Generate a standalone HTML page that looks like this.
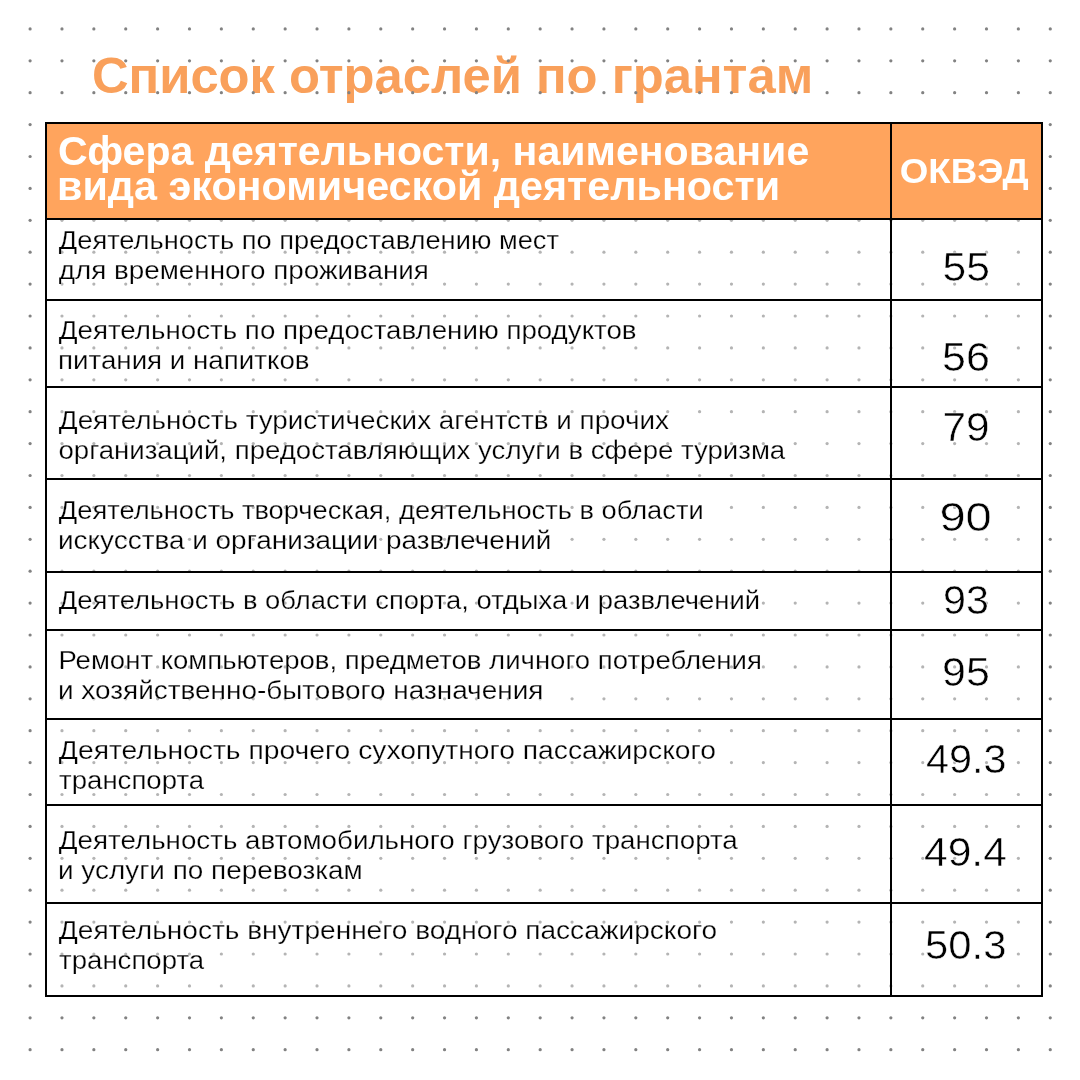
<!DOCTYPE html>
<html lang="ru"><head><meta charset="utf-8"><title>Список отраслей по грантам</title>
<style>
html,body{margin:0;padding:0;background:#fff;}
body{width:1080px;height:1080px;overflow:hidden;position:relative;}
svg{position:absolute;left:0;top:0;display:block;will-change:transform;}
text{font-family:"Liberation Sans","DejaVu Sans",sans-serif;}
.b{font-weight:700;}
</style></head><body>
<svg width="1080" height="1080" viewBox="0 0 1080 1080">
<text class="b" x="91.97" y="93" font-size="50" fill="#F9A05B" textLength="721.18" lengthAdjust="spacingAndGlyphs">Список отраслей по грантам</text>
<g fill="#828282"><circle cx="30.10" cy="28.90" r="1.6"/><circle cx="61.98" cy="28.90" r="1.6"/><circle cx="93.86" cy="28.90" r="1.6"/><circle cx="125.74" cy="28.90" r="1.6"/><circle cx="157.62" cy="28.90" r="1.6"/><circle cx="189.50" cy="28.90" r="1.6"/><circle cx="221.38" cy="28.90" r="1.6"/><circle cx="253.26" cy="28.90" r="1.6"/><circle cx="285.14" cy="28.90" r="1.6"/><circle cx="317.02" cy="28.90" r="1.6"/><circle cx="348.90" cy="28.90" r="1.6"/><circle cx="380.78" cy="28.90" r="1.6"/><circle cx="412.66" cy="28.90" r="1.6"/><circle cx="444.54" cy="28.90" r="1.6"/><circle cx="476.42" cy="28.90" r="1.6"/><circle cx="508.30" cy="28.90" r="1.6"/><circle cx="540.18" cy="28.90" r="1.6"/><circle cx="572.06" cy="28.90" r="1.6"/><circle cx="603.94" cy="28.90" r="1.6"/><circle cx="635.82" cy="28.90" r="1.6"/><circle cx="667.70" cy="28.90" r="1.6"/><circle cx="699.58" cy="28.90" r="1.6"/><circle cx="731.46" cy="28.90" r="1.6"/><circle cx="763.34" cy="28.90" r="1.6"/><circle cx="795.22" cy="28.90" r="1.6"/><circle cx="827.10" cy="28.90" r="1.6"/><circle cx="858.98" cy="28.90" r="1.6"/><circle cx="890.86" cy="28.90" r="1.6"/><circle cx="922.74" cy="28.90" r="1.6"/><circle cx="954.62" cy="28.90" r="1.6"/><circle cx="986.50" cy="28.90" r="1.6"/><circle cx="1018.38" cy="28.90" r="1.6"/><circle cx="1050.26" cy="28.90" r="1.6"/><circle cx="30.10" cy="60.80" r="1.6"/><circle cx="61.98" cy="60.80" r="1.6"/><circle cx="93.86" cy="60.80" r="1.6"/><circle cx="125.74" cy="60.80" r="1.6"/><circle cx="157.62" cy="60.80" r="1.6"/><circle cx="189.50" cy="60.80" r="1.6"/><circle cx="221.38" cy="60.80" r="1.6"/><circle cx="253.26" cy="60.80" r="1.6"/><circle cx="285.14" cy="60.80" r="1.6"/><circle cx="317.02" cy="60.80" r="1.6"/><circle cx="348.90" cy="60.80" r="1.6"/><circle cx="380.78" cy="60.80" r="1.6"/><circle cx="412.66" cy="60.80" r="1.6"/><circle cx="444.54" cy="60.80" r="1.6"/><circle cx="476.42" cy="60.80" r="1.6"/><circle cx="508.30" cy="60.80" r="1.6"/><circle cx="540.18" cy="60.80" r="1.6"/><circle cx="572.06" cy="60.80" r="1.6"/><circle cx="603.94" cy="60.80" r="1.6"/><circle cx="635.82" cy="60.80" r="1.6"/><circle cx="667.70" cy="60.80" r="1.6"/><circle cx="699.58" cy="60.80" r="1.6"/><circle cx="731.46" cy="60.80" r="1.6"/><circle cx="763.34" cy="60.80" r="1.6"/><circle cx="795.22" cy="60.80" r="1.6"/><circle cx="827.10" cy="60.80" r="1.6"/><circle cx="858.98" cy="60.80" r="1.6"/><circle cx="890.86" cy="60.80" r="1.6"/><circle cx="922.74" cy="60.80" r="1.6"/><circle cx="954.62" cy="60.80" r="1.6"/><circle cx="986.50" cy="60.80" r="1.6"/><circle cx="1018.38" cy="60.80" r="1.6"/><circle cx="1050.26" cy="60.80" r="1.6"/><circle cx="30.10" cy="92.70" r="1.6"/><circle cx="61.98" cy="92.70" r="1.6"/><circle cx="93.86" cy="92.70" r="1.6"/><circle cx="125.74" cy="92.70" r="1.6"/><circle cx="157.62" cy="92.70" r="1.6"/><circle cx="189.50" cy="92.70" r="1.6"/><circle cx="221.38" cy="92.70" r="1.6"/><circle cx="253.26" cy="92.70" r="1.6"/><circle cx="285.14" cy="92.70" r="1.6"/><circle cx="317.02" cy="92.70" r="1.6"/><circle cx="348.90" cy="92.70" r="1.6"/><circle cx="380.78" cy="92.70" r="1.6"/><circle cx="412.66" cy="92.70" r="1.6"/><circle cx="444.54" cy="92.70" r="1.6"/><circle cx="476.42" cy="92.70" r="1.6"/><circle cx="508.30" cy="92.70" r="1.6"/><circle cx="540.18" cy="92.70" r="1.6"/><circle cx="572.06" cy="92.70" r="1.6"/><circle cx="603.94" cy="92.70" r="1.6"/><circle cx="635.82" cy="92.70" r="1.6"/><circle cx="667.70" cy="92.70" r="1.6"/><circle cx="699.58" cy="92.70" r="1.6"/><circle cx="731.46" cy="92.70" r="1.6"/><circle cx="763.34" cy="92.70" r="1.6"/><circle cx="795.22" cy="92.70" r="1.6"/><circle cx="827.10" cy="92.70" r="1.6"/><circle cx="858.98" cy="92.70" r="1.6"/><circle cx="890.86" cy="92.70" r="1.6"/><circle cx="922.74" cy="92.70" r="1.6"/><circle cx="954.62" cy="92.70" r="1.6"/><circle cx="986.50" cy="92.70" r="1.6"/><circle cx="1018.38" cy="92.70" r="1.6"/><circle cx="1050.26" cy="92.70" r="1.6"/><circle cx="30.10" cy="124.60" r="1.6"/><circle cx="61.98" cy="124.60" r="1.6"/><circle cx="93.86" cy="124.60" r="1.6"/><circle cx="125.74" cy="124.60" r="1.6"/><circle cx="157.62" cy="124.60" r="1.6"/><circle cx="189.50" cy="124.60" r="1.6"/><circle cx="221.38" cy="124.60" r="1.6"/><circle cx="253.26" cy="124.60" r="1.6"/><circle cx="285.14" cy="124.60" r="1.6"/><circle cx="317.02" cy="124.60" r="1.6"/><circle cx="348.90" cy="124.60" r="1.6"/><circle cx="380.78" cy="124.60" r="1.6"/><circle cx="412.66" cy="124.60" r="1.6"/><circle cx="444.54" cy="124.60" r="1.6"/><circle cx="476.42" cy="124.60" r="1.6"/><circle cx="508.30" cy="124.60" r="1.6"/><circle cx="540.18" cy="124.60" r="1.6"/><circle cx="572.06" cy="124.60" r="1.6"/><circle cx="603.94" cy="124.60" r="1.6"/><circle cx="635.82" cy="124.60" r="1.6"/><circle cx="667.70" cy="124.60" r="1.6"/><circle cx="699.58" cy="124.60" r="1.6"/><circle cx="731.46" cy="124.60" r="1.6"/><circle cx="763.34" cy="124.60" r="1.6"/><circle cx="795.22" cy="124.60" r="1.6"/><circle cx="827.10" cy="124.60" r="1.6"/><circle cx="858.98" cy="124.60" r="1.6"/><circle cx="890.86" cy="124.60" r="1.6"/><circle cx="922.74" cy="124.60" r="1.6"/><circle cx="954.62" cy="124.60" r="1.6"/><circle cx="986.50" cy="124.60" r="1.6"/><circle cx="1018.38" cy="124.60" r="1.6"/><circle cx="1050.26" cy="124.60" r="1.6"/><circle cx="30.10" cy="156.50" r="1.6"/><circle cx="61.98" cy="156.50" r="1.6"/><circle cx="93.86" cy="156.50" r="1.6"/><circle cx="125.74" cy="156.50" r="1.6"/><circle cx="157.62" cy="156.50" r="1.6"/><circle cx="189.50" cy="156.50" r="1.6"/><circle cx="221.38" cy="156.50" r="1.6"/><circle cx="253.26" cy="156.50" r="1.6"/><circle cx="285.14" cy="156.50" r="1.6"/><circle cx="317.02" cy="156.50" r="1.6"/><circle cx="348.90" cy="156.50" r="1.6"/><circle cx="380.78" cy="156.50" r="1.6"/><circle cx="412.66" cy="156.50" r="1.6"/><circle cx="444.54" cy="156.50" r="1.6"/><circle cx="476.42" cy="156.50" r="1.6"/><circle cx="508.30" cy="156.50" r="1.6"/><circle cx="540.18" cy="156.50" r="1.6"/><circle cx="572.06" cy="156.50" r="1.6"/><circle cx="603.94" cy="156.50" r="1.6"/><circle cx="635.82" cy="156.50" r="1.6"/><circle cx="667.70" cy="156.50" r="1.6"/><circle cx="699.58" cy="156.50" r="1.6"/><circle cx="731.46" cy="156.50" r="1.6"/><circle cx="763.34" cy="156.50" r="1.6"/><circle cx="795.22" cy="156.50" r="1.6"/><circle cx="827.10" cy="156.50" r="1.6"/><circle cx="858.98" cy="156.50" r="1.6"/><circle cx="890.86" cy="156.50" r="1.6"/><circle cx="922.74" cy="156.50" r="1.6"/><circle cx="954.62" cy="156.50" r="1.6"/><circle cx="986.50" cy="156.50" r="1.6"/><circle cx="1018.38" cy="156.50" r="1.6"/><circle cx="1050.26" cy="156.50" r="1.6"/><circle cx="30.10" cy="188.40" r="1.6"/><circle cx="61.98" cy="188.40" r="1.6"/><circle cx="93.86" cy="188.40" r="1.6"/><circle cx="125.74" cy="188.40" r="1.6"/><circle cx="157.62" cy="188.40" r="1.6"/><circle cx="189.50" cy="188.40" r="1.6"/><circle cx="221.38" cy="188.40" r="1.6"/><circle cx="253.26" cy="188.40" r="1.6"/><circle cx="285.14" cy="188.40" r="1.6"/><circle cx="317.02" cy="188.40" r="1.6"/><circle cx="348.90" cy="188.40" r="1.6"/><circle cx="380.78" cy="188.40" r="1.6"/><circle cx="412.66" cy="188.40" r="1.6"/><circle cx="444.54" cy="188.40" r="1.6"/><circle cx="476.42" cy="188.40" r="1.6"/><circle cx="508.30" cy="188.40" r="1.6"/><circle cx="540.18" cy="188.40" r="1.6"/><circle cx="572.06" cy="188.40" r="1.6"/><circle cx="603.94" cy="188.40" r="1.6"/><circle cx="635.82" cy="188.40" r="1.6"/><circle cx="667.70" cy="188.40" r="1.6"/><circle cx="699.58" cy="188.40" r="1.6"/><circle cx="731.46" cy="188.40" r="1.6"/><circle cx="763.34" cy="188.40" r="1.6"/><circle cx="795.22" cy="188.40" r="1.6"/><circle cx="827.10" cy="188.40" r="1.6"/><circle cx="858.98" cy="188.40" r="1.6"/><circle cx="890.86" cy="188.40" r="1.6"/><circle cx="922.74" cy="188.40" r="1.6"/><circle cx="954.62" cy="188.40" r="1.6"/><circle cx="986.50" cy="188.40" r="1.6"/><circle cx="1018.38" cy="188.40" r="1.6"/><circle cx="1050.26" cy="188.40" r="1.6"/><circle cx="30.10" cy="220.30" r="1.6"/><circle cx="61.98" cy="220.30" r="1.6"/><circle cx="93.86" cy="220.30" r="1.6"/><circle cx="125.74" cy="220.30" r="1.6"/><circle cx="157.62" cy="220.30" r="1.6"/><circle cx="189.50" cy="220.30" r="1.6"/><circle cx="221.38" cy="220.30" r="1.6"/><circle cx="253.26" cy="220.30" r="1.6"/><circle cx="285.14" cy="220.30" r="1.6"/><circle cx="317.02" cy="220.30" r="1.6"/><circle cx="348.90" cy="220.30" r="1.6"/><circle cx="380.78" cy="220.30" r="1.6"/><circle cx="412.66" cy="220.30" r="1.6"/><circle cx="444.54" cy="220.30" r="1.6"/><circle cx="476.42" cy="220.30" r="1.6"/><circle cx="508.30" cy="220.30" r="1.6"/><circle cx="540.18" cy="220.30" r="1.6"/><circle cx="572.06" cy="220.30" r="1.6"/><circle cx="603.94" cy="220.30" r="1.6"/><circle cx="635.82" cy="220.30" r="1.6"/><circle cx="667.70" cy="220.30" r="1.6"/><circle cx="699.58" cy="220.30" r="1.6"/><circle cx="731.46" cy="220.30" r="1.6"/><circle cx="763.34" cy="220.30" r="1.6"/><circle cx="795.22" cy="220.30" r="1.6"/><circle cx="827.10" cy="220.30" r="1.6"/><circle cx="858.98" cy="220.30" r="1.6"/><circle cx="890.86" cy="220.30" r="1.6"/><circle cx="922.74" cy="220.30" r="1.6"/><circle cx="954.62" cy="220.30" r="1.6"/><circle cx="986.50" cy="220.30" r="1.6"/><circle cx="1018.38" cy="220.30" r="1.6"/><circle cx="1050.26" cy="220.30" r="1.6"/><circle cx="30.10" cy="252.20" r="1.6"/><circle cx="61.98" cy="252.20" r="1.6"/><circle cx="93.86" cy="252.20" r="1.6"/><circle cx="125.74" cy="252.20" r="1.6"/><circle cx="157.62" cy="252.20" r="1.6"/><circle cx="189.50" cy="252.20" r="1.6"/><circle cx="221.38" cy="252.20" r="1.6"/><circle cx="253.26" cy="252.20" r="1.6"/><circle cx="285.14" cy="252.20" r="1.6"/><circle cx="317.02" cy="252.20" r="1.6"/><circle cx="348.90" cy="252.20" r="1.6"/><circle cx="380.78" cy="252.20" r="1.6"/><circle cx="412.66" cy="252.20" r="1.6"/><circle cx="444.54" cy="252.20" r="1.6"/><circle cx="476.42" cy="252.20" r="1.6"/><circle cx="508.30" cy="252.20" r="1.6"/><circle cx="540.18" cy="252.20" r="1.6"/><circle cx="572.06" cy="252.20" r="1.6"/><circle cx="603.94" cy="252.20" r="1.6"/><circle cx="635.82" cy="252.20" r="1.6"/><circle cx="667.70" cy="252.20" r="1.6"/><circle cx="699.58" cy="252.20" r="1.6"/><circle cx="731.46" cy="252.20" r="1.6"/><circle cx="763.34" cy="252.20" r="1.6"/><circle cx="795.22" cy="252.20" r="1.6"/><circle cx="827.10" cy="252.20" r="1.6"/><circle cx="858.98" cy="252.20" r="1.6"/><circle cx="890.86" cy="252.20" r="1.6"/><circle cx="922.74" cy="252.20" r="1.6"/><circle cx="954.62" cy="252.20" r="1.6"/><circle cx="986.50" cy="252.20" r="1.6"/><circle cx="1018.38" cy="252.20" r="1.6"/><circle cx="1050.26" cy="252.20" r="1.6"/><circle cx="30.10" cy="284.10" r="1.6"/><circle cx="61.98" cy="284.10" r="1.6"/><circle cx="93.86" cy="284.10" r="1.6"/><circle cx="125.74" cy="284.10" r="1.6"/><circle cx="157.62" cy="284.10" r="1.6"/><circle cx="189.50" cy="284.10" r="1.6"/><circle cx="221.38" cy="284.10" r="1.6"/><circle cx="253.26" cy="284.10" r="1.6"/><circle cx="285.14" cy="284.10" r="1.6"/><circle cx="317.02" cy="284.10" r="1.6"/><circle cx="348.90" cy="284.10" r="1.6"/><circle cx="380.78" cy="284.10" r="1.6"/><circle cx="412.66" cy="284.10" r="1.6"/><circle cx="444.54" cy="284.10" r="1.6"/><circle cx="476.42" cy="284.10" r="1.6"/><circle cx="508.30" cy="284.10" r="1.6"/><circle cx="540.18" cy="284.10" r="1.6"/><circle cx="572.06" cy="284.10" r="1.6"/><circle cx="603.94" cy="284.10" r="1.6"/><circle cx="635.82" cy="284.10" r="1.6"/><circle cx="667.70" cy="284.10" r="1.6"/><circle cx="699.58" cy="284.10" r="1.6"/><circle cx="731.46" cy="284.10" r="1.6"/><circle cx="763.34" cy="284.10" r="1.6"/><circle cx="795.22" cy="284.10" r="1.6"/><circle cx="827.10" cy="284.10" r="1.6"/><circle cx="858.98" cy="284.10" r="1.6"/><circle cx="890.86" cy="284.10" r="1.6"/><circle cx="922.74" cy="284.10" r="1.6"/><circle cx="954.62" cy="284.10" r="1.6"/><circle cx="986.50" cy="284.10" r="1.6"/><circle cx="1018.38" cy="284.10" r="1.6"/><circle cx="1050.26" cy="284.10" r="1.6"/><circle cx="30.10" cy="316.00" r="1.6"/><circle cx="61.98" cy="316.00" r="1.6"/><circle cx="93.86" cy="316.00" r="1.6"/><circle cx="125.74" cy="316.00" r="1.6"/><circle cx="157.62" cy="316.00" r="1.6"/><circle cx="189.50" cy="316.00" r="1.6"/><circle cx="221.38" cy="316.00" r="1.6"/><circle cx="253.26" cy="316.00" r="1.6"/><circle cx="285.14" cy="316.00" r="1.6"/><circle cx="317.02" cy="316.00" r="1.6"/><circle cx="348.90" cy="316.00" r="1.6"/><circle cx="380.78" cy="316.00" r="1.6"/><circle cx="412.66" cy="316.00" r="1.6"/><circle cx="444.54" cy="316.00" r="1.6"/><circle cx="476.42" cy="316.00" r="1.6"/><circle cx="508.30" cy="316.00" r="1.6"/><circle cx="540.18" cy="316.00" r="1.6"/><circle cx="572.06" cy="316.00" r="1.6"/><circle cx="603.94" cy="316.00" r="1.6"/><circle cx="635.82" cy="316.00" r="1.6"/><circle cx="667.70" cy="316.00" r="1.6"/><circle cx="699.58" cy="316.00" r="1.6"/><circle cx="731.46" cy="316.00" r="1.6"/><circle cx="763.34" cy="316.00" r="1.6"/><circle cx="795.22" cy="316.00" r="1.6"/><circle cx="827.10" cy="316.00" r="1.6"/><circle cx="858.98" cy="316.00" r="1.6"/><circle cx="890.86" cy="316.00" r="1.6"/><circle cx="922.74" cy="316.00" r="1.6"/><circle cx="954.62" cy="316.00" r="1.6"/><circle cx="986.50" cy="316.00" r="1.6"/><circle cx="1018.38" cy="316.00" r="1.6"/><circle cx="1050.26" cy="316.00" r="1.6"/><circle cx="30.10" cy="347.90" r="1.6"/><circle cx="61.98" cy="347.90" r="1.6"/><circle cx="93.86" cy="347.90" r="1.6"/><circle cx="125.74" cy="347.90" r="1.6"/><circle cx="157.62" cy="347.90" r="1.6"/><circle cx="189.50" cy="347.90" r="1.6"/><circle cx="221.38" cy="347.90" r="1.6"/><circle cx="253.26" cy="347.90" r="1.6"/><circle cx="285.14" cy="347.90" r="1.6"/><circle cx="317.02" cy="347.90" r="1.6"/><circle cx="348.90" cy="347.90" r="1.6"/><circle cx="380.78" cy="347.90" r="1.6"/><circle cx="412.66" cy="347.90" r="1.6"/><circle cx="444.54" cy="347.90" r="1.6"/><circle cx="476.42" cy="347.90" r="1.6"/><circle cx="508.30" cy="347.90" r="1.6"/><circle cx="540.18" cy="347.90" r="1.6"/><circle cx="572.06" cy="347.90" r="1.6"/><circle cx="603.94" cy="347.90" r="1.6"/><circle cx="635.82" cy="347.90" r="1.6"/><circle cx="667.70" cy="347.90" r="1.6"/><circle cx="699.58" cy="347.90" r="1.6"/><circle cx="731.46" cy="347.90" r="1.6"/><circle cx="763.34" cy="347.90" r="1.6"/><circle cx="795.22" cy="347.90" r="1.6"/><circle cx="827.10" cy="347.90" r="1.6"/><circle cx="858.98" cy="347.90" r="1.6"/><circle cx="890.86" cy="347.90" r="1.6"/><circle cx="922.74" cy="347.90" r="1.6"/><circle cx="954.62" cy="347.90" r="1.6"/><circle cx="986.50" cy="347.90" r="1.6"/><circle cx="1018.38" cy="347.90" r="1.6"/><circle cx="1050.26" cy="347.90" r="1.6"/><circle cx="30.10" cy="379.80" r="1.6"/><circle cx="61.98" cy="379.80" r="1.6"/><circle cx="93.86" cy="379.80" r="1.6"/><circle cx="125.74" cy="379.80" r="1.6"/><circle cx="157.62" cy="379.80" r="1.6"/><circle cx="189.50" cy="379.80" r="1.6"/><circle cx="221.38" cy="379.80" r="1.6"/><circle cx="253.26" cy="379.80" r="1.6"/><circle cx="285.14" cy="379.80" r="1.6"/><circle cx="317.02" cy="379.80" r="1.6"/><circle cx="348.90" cy="379.80" r="1.6"/><circle cx="380.78" cy="379.80" r="1.6"/><circle cx="412.66" cy="379.80" r="1.6"/><circle cx="444.54" cy="379.80" r="1.6"/><circle cx="476.42" cy="379.80" r="1.6"/><circle cx="508.30" cy="379.80" r="1.6"/><circle cx="540.18" cy="379.80" r="1.6"/><circle cx="572.06" cy="379.80" r="1.6"/><circle cx="603.94" cy="379.80" r="1.6"/><circle cx="635.82" cy="379.80" r="1.6"/><circle cx="667.70" cy="379.80" r="1.6"/><circle cx="699.58" cy="379.80" r="1.6"/><circle cx="731.46" cy="379.80" r="1.6"/><circle cx="763.34" cy="379.80" r="1.6"/><circle cx="795.22" cy="379.80" r="1.6"/><circle cx="827.10" cy="379.80" r="1.6"/><circle cx="858.98" cy="379.80" r="1.6"/><circle cx="890.86" cy="379.80" r="1.6"/><circle cx="922.74" cy="379.80" r="1.6"/><circle cx="954.62" cy="379.80" r="1.6"/><circle cx="986.50" cy="379.80" r="1.6"/><circle cx="1018.38" cy="379.80" r="1.6"/><circle cx="1050.26" cy="379.80" r="1.6"/><circle cx="30.10" cy="411.70" r="1.6"/><circle cx="61.98" cy="411.70" r="1.6"/><circle cx="93.86" cy="411.70" r="1.6"/><circle cx="125.74" cy="411.70" r="1.6"/><circle cx="157.62" cy="411.70" r="1.6"/><circle cx="189.50" cy="411.70" r="1.6"/><circle cx="221.38" cy="411.70" r="1.6"/><circle cx="253.26" cy="411.70" r="1.6"/><circle cx="285.14" cy="411.70" r="1.6"/><circle cx="317.02" cy="411.70" r="1.6"/><circle cx="348.90" cy="411.70" r="1.6"/><circle cx="380.78" cy="411.70" r="1.6"/><circle cx="412.66" cy="411.70" r="1.6"/><circle cx="444.54" cy="411.70" r="1.6"/><circle cx="476.42" cy="411.70" r="1.6"/><circle cx="508.30" cy="411.70" r="1.6"/><circle cx="540.18" cy="411.70" r="1.6"/><circle cx="572.06" cy="411.70" r="1.6"/><circle cx="603.94" cy="411.70" r="1.6"/><circle cx="635.82" cy="411.70" r="1.6"/><circle cx="667.70" cy="411.70" r="1.6"/><circle cx="699.58" cy="411.70" r="1.6"/><circle cx="731.46" cy="411.70" r="1.6"/><circle cx="763.34" cy="411.70" r="1.6"/><circle cx="795.22" cy="411.70" r="1.6"/><circle cx="827.10" cy="411.70" r="1.6"/><circle cx="858.98" cy="411.70" r="1.6"/><circle cx="890.86" cy="411.70" r="1.6"/><circle cx="922.74" cy="411.70" r="1.6"/><circle cx="954.62" cy="411.70" r="1.6"/><circle cx="986.50" cy="411.70" r="1.6"/><circle cx="1018.38" cy="411.70" r="1.6"/><circle cx="1050.26" cy="411.70" r="1.6"/><circle cx="30.10" cy="443.60" r="1.6"/><circle cx="61.98" cy="443.60" r="1.6"/><circle cx="93.86" cy="443.60" r="1.6"/><circle cx="125.74" cy="443.60" r="1.6"/><circle cx="157.62" cy="443.60" r="1.6"/><circle cx="189.50" cy="443.60" r="1.6"/><circle cx="221.38" cy="443.60" r="1.6"/><circle cx="253.26" cy="443.60" r="1.6"/><circle cx="285.14" cy="443.60" r="1.6"/><circle cx="317.02" cy="443.60" r="1.6"/><circle cx="348.90" cy="443.60" r="1.6"/><circle cx="380.78" cy="443.60" r="1.6"/><circle cx="412.66" cy="443.60" r="1.6"/><circle cx="444.54" cy="443.60" r="1.6"/><circle cx="476.42" cy="443.60" r="1.6"/><circle cx="508.30" cy="443.60" r="1.6"/><circle cx="540.18" cy="443.60" r="1.6"/><circle cx="572.06" cy="443.60" r="1.6"/><circle cx="603.94" cy="443.60" r="1.6"/><circle cx="635.82" cy="443.60" r="1.6"/><circle cx="667.70" cy="443.60" r="1.6"/><circle cx="699.58" cy="443.60" r="1.6"/><circle cx="731.46" cy="443.60" r="1.6"/><circle cx="763.34" cy="443.60" r="1.6"/><circle cx="795.22" cy="443.60" r="1.6"/><circle cx="827.10" cy="443.60" r="1.6"/><circle cx="858.98" cy="443.60" r="1.6"/><circle cx="890.86" cy="443.60" r="1.6"/><circle cx="922.74" cy="443.60" r="1.6"/><circle cx="954.62" cy="443.60" r="1.6"/><circle cx="986.50" cy="443.60" r="1.6"/><circle cx="1018.38" cy="443.60" r="1.6"/><circle cx="1050.26" cy="443.60" r="1.6"/><circle cx="30.10" cy="475.50" r="1.6"/><circle cx="61.98" cy="475.50" r="1.6"/><circle cx="93.86" cy="475.50" r="1.6"/><circle cx="125.74" cy="475.50" r="1.6"/><circle cx="157.62" cy="475.50" r="1.6"/><circle cx="189.50" cy="475.50" r="1.6"/><circle cx="221.38" cy="475.50" r="1.6"/><circle cx="253.26" cy="475.50" r="1.6"/><circle cx="285.14" cy="475.50" r="1.6"/><circle cx="317.02" cy="475.50" r="1.6"/><circle cx="348.90" cy="475.50" r="1.6"/><circle cx="380.78" cy="475.50" r="1.6"/><circle cx="412.66" cy="475.50" r="1.6"/><circle cx="444.54" cy="475.50" r="1.6"/><circle cx="476.42" cy="475.50" r="1.6"/><circle cx="508.30" cy="475.50" r="1.6"/><circle cx="540.18" cy="475.50" r="1.6"/><circle cx="572.06" cy="475.50" r="1.6"/><circle cx="603.94" cy="475.50" r="1.6"/><circle cx="635.82" cy="475.50" r="1.6"/><circle cx="667.70" cy="475.50" r="1.6"/><circle cx="699.58" cy="475.50" r="1.6"/><circle cx="731.46" cy="475.50" r="1.6"/><circle cx="763.34" cy="475.50" r="1.6"/><circle cx="795.22" cy="475.50" r="1.6"/><circle cx="827.10" cy="475.50" r="1.6"/><circle cx="858.98" cy="475.50" r="1.6"/><circle cx="890.86" cy="475.50" r="1.6"/><circle cx="922.74" cy="475.50" r="1.6"/><circle cx="954.62" cy="475.50" r="1.6"/><circle cx="986.50" cy="475.50" r="1.6"/><circle cx="1018.38" cy="475.50" r="1.6"/><circle cx="1050.26" cy="475.50" r="1.6"/><circle cx="30.10" cy="507.40" r="1.6"/><circle cx="61.98" cy="507.40" r="1.6"/><circle cx="93.86" cy="507.40" r="1.6"/><circle cx="125.74" cy="507.40" r="1.6"/><circle cx="157.62" cy="507.40" r="1.6"/><circle cx="189.50" cy="507.40" r="1.6"/><circle cx="221.38" cy="507.40" r="1.6"/><circle cx="253.26" cy="507.40" r="1.6"/><circle cx="285.14" cy="507.40" r="1.6"/><circle cx="317.02" cy="507.40" r="1.6"/><circle cx="348.90" cy="507.40" r="1.6"/><circle cx="380.78" cy="507.40" r="1.6"/><circle cx="412.66" cy="507.40" r="1.6"/><circle cx="444.54" cy="507.40" r="1.6"/><circle cx="476.42" cy="507.40" r="1.6"/><circle cx="508.30" cy="507.40" r="1.6"/><circle cx="540.18" cy="507.40" r="1.6"/><circle cx="572.06" cy="507.40" r="1.6"/><circle cx="603.94" cy="507.40" r="1.6"/><circle cx="635.82" cy="507.40" r="1.6"/><circle cx="667.70" cy="507.40" r="1.6"/><circle cx="699.58" cy="507.40" r="1.6"/><circle cx="731.46" cy="507.40" r="1.6"/><circle cx="763.34" cy="507.40" r="1.6"/><circle cx="795.22" cy="507.40" r="1.6"/><circle cx="827.10" cy="507.40" r="1.6"/><circle cx="858.98" cy="507.40" r="1.6"/><circle cx="890.86" cy="507.40" r="1.6"/><circle cx="922.74" cy="507.40" r="1.6"/><circle cx="954.62" cy="507.40" r="1.6"/><circle cx="986.50" cy="507.40" r="1.6"/><circle cx="1018.38" cy="507.40" r="1.6"/><circle cx="1050.26" cy="507.40" r="1.6"/><circle cx="30.10" cy="539.30" r="1.6"/><circle cx="61.98" cy="539.30" r="1.6"/><circle cx="93.86" cy="539.30" r="1.6"/><circle cx="125.74" cy="539.30" r="1.6"/><circle cx="157.62" cy="539.30" r="1.6"/><circle cx="189.50" cy="539.30" r="1.6"/><circle cx="221.38" cy="539.30" r="1.6"/><circle cx="253.26" cy="539.30" r="1.6"/><circle cx="285.14" cy="539.30" r="1.6"/><circle cx="317.02" cy="539.30" r="1.6"/><circle cx="348.90" cy="539.30" r="1.6"/><circle cx="380.78" cy="539.30" r="1.6"/><circle cx="412.66" cy="539.30" r="1.6"/><circle cx="444.54" cy="539.30" r="1.6"/><circle cx="476.42" cy="539.30" r="1.6"/><circle cx="508.30" cy="539.30" r="1.6"/><circle cx="540.18" cy="539.30" r="1.6"/><circle cx="572.06" cy="539.30" r="1.6"/><circle cx="603.94" cy="539.30" r="1.6"/><circle cx="635.82" cy="539.30" r="1.6"/><circle cx="667.70" cy="539.30" r="1.6"/><circle cx="699.58" cy="539.30" r="1.6"/><circle cx="731.46" cy="539.30" r="1.6"/><circle cx="763.34" cy="539.30" r="1.6"/><circle cx="795.22" cy="539.30" r="1.6"/><circle cx="827.10" cy="539.30" r="1.6"/><circle cx="858.98" cy="539.30" r="1.6"/><circle cx="890.86" cy="539.30" r="1.6"/><circle cx="922.74" cy="539.30" r="1.6"/><circle cx="954.62" cy="539.30" r="1.6"/><circle cx="986.50" cy="539.30" r="1.6"/><circle cx="1018.38" cy="539.30" r="1.6"/><circle cx="1050.26" cy="539.30" r="1.6"/><circle cx="30.10" cy="571.20" r="1.6"/><circle cx="61.98" cy="571.20" r="1.6"/><circle cx="93.86" cy="571.20" r="1.6"/><circle cx="125.74" cy="571.20" r="1.6"/><circle cx="157.62" cy="571.20" r="1.6"/><circle cx="189.50" cy="571.20" r="1.6"/><circle cx="221.38" cy="571.20" r="1.6"/><circle cx="253.26" cy="571.20" r="1.6"/><circle cx="285.14" cy="571.20" r="1.6"/><circle cx="317.02" cy="571.20" r="1.6"/><circle cx="348.90" cy="571.20" r="1.6"/><circle cx="380.78" cy="571.20" r="1.6"/><circle cx="412.66" cy="571.20" r="1.6"/><circle cx="444.54" cy="571.20" r="1.6"/><circle cx="476.42" cy="571.20" r="1.6"/><circle cx="508.30" cy="571.20" r="1.6"/><circle cx="540.18" cy="571.20" r="1.6"/><circle cx="572.06" cy="571.20" r="1.6"/><circle cx="603.94" cy="571.20" r="1.6"/><circle cx="635.82" cy="571.20" r="1.6"/><circle cx="667.70" cy="571.20" r="1.6"/><circle cx="699.58" cy="571.20" r="1.6"/><circle cx="731.46" cy="571.20" r="1.6"/><circle cx="763.34" cy="571.20" r="1.6"/><circle cx="795.22" cy="571.20" r="1.6"/><circle cx="827.10" cy="571.20" r="1.6"/><circle cx="858.98" cy="571.20" r="1.6"/><circle cx="890.86" cy="571.20" r="1.6"/><circle cx="922.74" cy="571.20" r="1.6"/><circle cx="954.62" cy="571.20" r="1.6"/><circle cx="986.50" cy="571.20" r="1.6"/><circle cx="1018.38" cy="571.20" r="1.6"/><circle cx="1050.26" cy="571.20" r="1.6"/><circle cx="30.10" cy="603.10" r="1.6"/><circle cx="61.98" cy="603.10" r="1.6"/><circle cx="93.86" cy="603.10" r="1.6"/><circle cx="125.74" cy="603.10" r="1.6"/><circle cx="157.62" cy="603.10" r="1.6"/><circle cx="189.50" cy="603.10" r="1.6"/><circle cx="221.38" cy="603.10" r="1.6"/><circle cx="253.26" cy="603.10" r="1.6"/><circle cx="285.14" cy="603.10" r="1.6"/><circle cx="317.02" cy="603.10" r="1.6"/><circle cx="348.90" cy="603.10" r="1.6"/><circle cx="380.78" cy="603.10" r="1.6"/><circle cx="412.66" cy="603.10" r="1.6"/><circle cx="444.54" cy="603.10" r="1.6"/><circle cx="476.42" cy="603.10" r="1.6"/><circle cx="508.30" cy="603.10" r="1.6"/><circle cx="540.18" cy="603.10" r="1.6"/><circle cx="572.06" cy="603.10" r="1.6"/><circle cx="603.94" cy="603.10" r="1.6"/><circle cx="635.82" cy="603.10" r="1.6"/><circle cx="667.70" cy="603.10" r="1.6"/><circle cx="699.58" cy="603.10" r="1.6"/><circle cx="731.46" cy="603.10" r="1.6"/><circle cx="763.34" cy="603.10" r="1.6"/><circle cx="795.22" cy="603.10" r="1.6"/><circle cx="827.10" cy="603.10" r="1.6"/><circle cx="858.98" cy="603.10" r="1.6"/><circle cx="890.86" cy="603.10" r="1.6"/><circle cx="922.74" cy="603.10" r="1.6"/><circle cx="954.62" cy="603.10" r="1.6"/><circle cx="986.50" cy="603.10" r="1.6"/><circle cx="1018.38" cy="603.10" r="1.6"/><circle cx="1050.26" cy="603.10" r="1.6"/><circle cx="30.10" cy="635.00" r="1.6"/><circle cx="61.98" cy="635.00" r="1.6"/><circle cx="93.86" cy="635.00" r="1.6"/><circle cx="125.74" cy="635.00" r="1.6"/><circle cx="157.62" cy="635.00" r="1.6"/><circle cx="189.50" cy="635.00" r="1.6"/><circle cx="221.38" cy="635.00" r="1.6"/><circle cx="253.26" cy="635.00" r="1.6"/><circle cx="285.14" cy="635.00" r="1.6"/><circle cx="317.02" cy="635.00" r="1.6"/><circle cx="348.90" cy="635.00" r="1.6"/><circle cx="380.78" cy="635.00" r="1.6"/><circle cx="412.66" cy="635.00" r="1.6"/><circle cx="444.54" cy="635.00" r="1.6"/><circle cx="476.42" cy="635.00" r="1.6"/><circle cx="508.30" cy="635.00" r="1.6"/><circle cx="540.18" cy="635.00" r="1.6"/><circle cx="572.06" cy="635.00" r="1.6"/><circle cx="603.94" cy="635.00" r="1.6"/><circle cx="635.82" cy="635.00" r="1.6"/><circle cx="667.70" cy="635.00" r="1.6"/><circle cx="699.58" cy="635.00" r="1.6"/><circle cx="731.46" cy="635.00" r="1.6"/><circle cx="763.34" cy="635.00" r="1.6"/><circle cx="795.22" cy="635.00" r="1.6"/><circle cx="827.10" cy="635.00" r="1.6"/><circle cx="858.98" cy="635.00" r="1.6"/><circle cx="890.86" cy="635.00" r="1.6"/><circle cx="922.74" cy="635.00" r="1.6"/><circle cx="954.62" cy="635.00" r="1.6"/><circle cx="986.50" cy="635.00" r="1.6"/><circle cx="1018.38" cy="635.00" r="1.6"/><circle cx="1050.26" cy="635.00" r="1.6"/><circle cx="30.10" cy="666.90" r="1.6"/><circle cx="61.98" cy="666.90" r="1.6"/><circle cx="93.86" cy="666.90" r="1.6"/><circle cx="125.74" cy="666.90" r="1.6"/><circle cx="157.62" cy="666.90" r="1.6"/><circle cx="189.50" cy="666.90" r="1.6"/><circle cx="221.38" cy="666.90" r="1.6"/><circle cx="253.26" cy="666.90" r="1.6"/><circle cx="285.14" cy="666.90" r="1.6"/><circle cx="317.02" cy="666.90" r="1.6"/><circle cx="348.90" cy="666.90" r="1.6"/><circle cx="380.78" cy="666.90" r="1.6"/><circle cx="412.66" cy="666.90" r="1.6"/><circle cx="444.54" cy="666.90" r="1.6"/><circle cx="476.42" cy="666.90" r="1.6"/><circle cx="508.30" cy="666.90" r="1.6"/><circle cx="540.18" cy="666.90" r="1.6"/><circle cx="572.06" cy="666.90" r="1.6"/><circle cx="603.94" cy="666.90" r="1.6"/><circle cx="635.82" cy="666.90" r="1.6"/><circle cx="667.70" cy="666.90" r="1.6"/><circle cx="699.58" cy="666.90" r="1.6"/><circle cx="731.46" cy="666.90" r="1.6"/><circle cx="763.34" cy="666.90" r="1.6"/><circle cx="795.22" cy="666.90" r="1.6"/><circle cx="827.10" cy="666.90" r="1.6"/><circle cx="858.98" cy="666.90" r="1.6"/><circle cx="890.86" cy="666.90" r="1.6"/><circle cx="922.74" cy="666.90" r="1.6"/><circle cx="954.62" cy="666.90" r="1.6"/><circle cx="986.50" cy="666.90" r="1.6"/><circle cx="1018.38" cy="666.90" r="1.6"/><circle cx="1050.26" cy="666.90" r="1.6"/><circle cx="30.10" cy="698.80" r="1.6"/><circle cx="61.98" cy="698.80" r="1.6"/><circle cx="93.86" cy="698.80" r="1.6"/><circle cx="125.74" cy="698.80" r="1.6"/><circle cx="157.62" cy="698.80" r="1.6"/><circle cx="189.50" cy="698.80" r="1.6"/><circle cx="221.38" cy="698.80" r="1.6"/><circle cx="253.26" cy="698.80" r="1.6"/><circle cx="285.14" cy="698.80" r="1.6"/><circle cx="317.02" cy="698.80" r="1.6"/><circle cx="348.90" cy="698.80" r="1.6"/><circle cx="380.78" cy="698.80" r="1.6"/><circle cx="412.66" cy="698.80" r="1.6"/><circle cx="444.54" cy="698.80" r="1.6"/><circle cx="476.42" cy="698.80" r="1.6"/><circle cx="508.30" cy="698.80" r="1.6"/><circle cx="540.18" cy="698.80" r="1.6"/><circle cx="572.06" cy="698.80" r="1.6"/><circle cx="603.94" cy="698.80" r="1.6"/><circle cx="635.82" cy="698.80" r="1.6"/><circle cx="667.70" cy="698.80" r="1.6"/><circle cx="699.58" cy="698.80" r="1.6"/><circle cx="731.46" cy="698.80" r="1.6"/><circle cx="763.34" cy="698.80" r="1.6"/><circle cx="795.22" cy="698.80" r="1.6"/><circle cx="827.10" cy="698.80" r="1.6"/><circle cx="858.98" cy="698.80" r="1.6"/><circle cx="890.86" cy="698.80" r="1.6"/><circle cx="922.74" cy="698.80" r="1.6"/><circle cx="954.62" cy="698.80" r="1.6"/><circle cx="986.50" cy="698.80" r="1.6"/><circle cx="1018.38" cy="698.80" r="1.6"/><circle cx="1050.26" cy="698.80" r="1.6"/><circle cx="30.10" cy="730.70" r="1.6"/><circle cx="61.98" cy="730.70" r="1.6"/><circle cx="93.86" cy="730.70" r="1.6"/><circle cx="125.74" cy="730.70" r="1.6"/><circle cx="157.62" cy="730.70" r="1.6"/><circle cx="189.50" cy="730.70" r="1.6"/><circle cx="221.38" cy="730.70" r="1.6"/><circle cx="253.26" cy="730.70" r="1.6"/><circle cx="285.14" cy="730.70" r="1.6"/><circle cx="317.02" cy="730.70" r="1.6"/><circle cx="348.90" cy="730.70" r="1.6"/><circle cx="380.78" cy="730.70" r="1.6"/><circle cx="412.66" cy="730.70" r="1.6"/><circle cx="444.54" cy="730.70" r="1.6"/><circle cx="476.42" cy="730.70" r="1.6"/><circle cx="508.30" cy="730.70" r="1.6"/><circle cx="540.18" cy="730.70" r="1.6"/><circle cx="572.06" cy="730.70" r="1.6"/><circle cx="603.94" cy="730.70" r="1.6"/><circle cx="635.82" cy="730.70" r="1.6"/><circle cx="667.70" cy="730.70" r="1.6"/><circle cx="699.58" cy="730.70" r="1.6"/><circle cx="731.46" cy="730.70" r="1.6"/><circle cx="763.34" cy="730.70" r="1.6"/><circle cx="795.22" cy="730.70" r="1.6"/><circle cx="827.10" cy="730.70" r="1.6"/><circle cx="858.98" cy="730.70" r="1.6"/><circle cx="890.86" cy="730.70" r="1.6"/><circle cx="922.74" cy="730.70" r="1.6"/><circle cx="954.62" cy="730.70" r="1.6"/><circle cx="986.50" cy="730.70" r="1.6"/><circle cx="1018.38" cy="730.70" r="1.6"/><circle cx="1050.26" cy="730.70" r="1.6"/><circle cx="30.10" cy="762.60" r="1.6"/><circle cx="61.98" cy="762.60" r="1.6"/><circle cx="93.86" cy="762.60" r="1.6"/><circle cx="125.74" cy="762.60" r="1.6"/><circle cx="157.62" cy="762.60" r="1.6"/><circle cx="189.50" cy="762.60" r="1.6"/><circle cx="221.38" cy="762.60" r="1.6"/><circle cx="253.26" cy="762.60" r="1.6"/><circle cx="285.14" cy="762.60" r="1.6"/><circle cx="317.02" cy="762.60" r="1.6"/><circle cx="348.90" cy="762.60" r="1.6"/><circle cx="380.78" cy="762.60" r="1.6"/><circle cx="412.66" cy="762.60" r="1.6"/><circle cx="444.54" cy="762.60" r="1.6"/><circle cx="476.42" cy="762.60" r="1.6"/><circle cx="508.30" cy="762.60" r="1.6"/><circle cx="540.18" cy="762.60" r="1.6"/><circle cx="572.06" cy="762.60" r="1.6"/><circle cx="603.94" cy="762.60" r="1.6"/><circle cx="635.82" cy="762.60" r="1.6"/><circle cx="667.70" cy="762.60" r="1.6"/><circle cx="699.58" cy="762.60" r="1.6"/><circle cx="731.46" cy="762.60" r="1.6"/><circle cx="763.34" cy="762.60" r="1.6"/><circle cx="795.22" cy="762.60" r="1.6"/><circle cx="827.10" cy="762.60" r="1.6"/><circle cx="858.98" cy="762.60" r="1.6"/><circle cx="890.86" cy="762.60" r="1.6"/><circle cx="922.74" cy="762.60" r="1.6"/><circle cx="954.62" cy="762.60" r="1.6"/><circle cx="986.50" cy="762.60" r="1.6"/><circle cx="1018.38" cy="762.60" r="1.6"/><circle cx="1050.26" cy="762.60" r="1.6"/><circle cx="30.10" cy="794.50" r="1.6"/><circle cx="61.98" cy="794.50" r="1.6"/><circle cx="93.86" cy="794.50" r="1.6"/><circle cx="125.74" cy="794.50" r="1.6"/><circle cx="157.62" cy="794.50" r="1.6"/><circle cx="189.50" cy="794.50" r="1.6"/><circle cx="221.38" cy="794.50" r="1.6"/><circle cx="253.26" cy="794.50" r="1.6"/><circle cx="285.14" cy="794.50" r="1.6"/><circle cx="317.02" cy="794.50" r="1.6"/><circle cx="348.90" cy="794.50" r="1.6"/><circle cx="380.78" cy="794.50" r="1.6"/><circle cx="412.66" cy="794.50" r="1.6"/><circle cx="444.54" cy="794.50" r="1.6"/><circle cx="476.42" cy="794.50" r="1.6"/><circle cx="508.30" cy="794.50" r="1.6"/><circle cx="540.18" cy="794.50" r="1.6"/><circle cx="572.06" cy="794.50" r="1.6"/><circle cx="603.94" cy="794.50" r="1.6"/><circle cx="635.82" cy="794.50" r="1.6"/><circle cx="667.70" cy="794.50" r="1.6"/><circle cx="699.58" cy="794.50" r="1.6"/><circle cx="731.46" cy="794.50" r="1.6"/><circle cx="763.34" cy="794.50" r="1.6"/><circle cx="795.22" cy="794.50" r="1.6"/><circle cx="827.10" cy="794.50" r="1.6"/><circle cx="858.98" cy="794.50" r="1.6"/><circle cx="890.86" cy="794.50" r="1.6"/><circle cx="922.74" cy="794.50" r="1.6"/><circle cx="954.62" cy="794.50" r="1.6"/><circle cx="986.50" cy="794.50" r="1.6"/><circle cx="1018.38" cy="794.50" r="1.6"/><circle cx="1050.26" cy="794.50" r="1.6"/><circle cx="30.10" cy="826.40" r="1.6"/><circle cx="61.98" cy="826.40" r="1.6"/><circle cx="93.86" cy="826.40" r="1.6"/><circle cx="125.74" cy="826.40" r="1.6"/><circle cx="157.62" cy="826.40" r="1.6"/><circle cx="189.50" cy="826.40" r="1.6"/><circle cx="221.38" cy="826.40" r="1.6"/><circle cx="253.26" cy="826.40" r="1.6"/><circle cx="285.14" cy="826.40" r="1.6"/><circle cx="317.02" cy="826.40" r="1.6"/><circle cx="348.90" cy="826.40" r="1.6"/><circle cx="380.78" cy="826.40" r="1.6"/><circle cx="412.66" cy="826.40" r="1.6"/><circle cx="444.54" cy="826.40" r="1.6"/><circle cx="476.42" cy="826.40" r="1.6"/><circle cx="508.30" cy="826.40" r="1.6"/><circle cx="540.18" cy="826.40" r="1.6"/><circle cx="572.06" cy="826.40" r="1.6"/><circle cx="603.94" cy="826.40" r="1.6"/><circle cx="635.82" cy="826.40" r="1.6"/><circle cx="667.70" cy="826.40" r="1.6"/><circle cx="699.58" cy="826.40" r="1.6"/><circle cx="731.46" cy="826.40" r="1.6"/><circle cx="763.34" cy="826.40" r="1.6"/><circle cx="795.22" cy="826.40" r="1.6"/><circle cx="827.10" cy="826.40" r="1.6"/><circle cx="858.98" cy="826.40" r="1.6"/><circle cx="890.86" cy="826.40" r="1.6"/><circle cx="922.74" cy="826.40" r="1.6"/><circle cx="954.62" cy="826.40" r="1.6"/><circle cx="986.50" cy="826.40" r="1.6"/><circle cx="1018.38" cy="826.40" r="1.6"/><circle cx="1050.26" cy="826.40" r="1.6"/><circle cx="30.10" cy="858.30" r="1.6"/><circle cx="61.98" cy="858.30" r="1.6"/><circle cx="93.86" cy="858.30" r="1.6"/><circle cx="125.74" cy="858.30" r="1.6"/><circle cx="157.62" cy="858.30" r="1.6"/><circle cx="189.50" cy="858.30" r="1.6"/><circle cx="221.38" cy="858.30" r="1.6"/><circle cx="253.26" cy="858.30" r="1.6"/><circle cx="285.14" cy="858.30" r="1.6"/><circle cx="317.02" cy="858.30" r="1.6"/><circle cx="348.90" cy="858.30" r="1.6"/><circle cx="380.78" cy="858.30" r="1.6"/><circle cx="412.66" cy="858.30" r="1.6"/><circle cx="444.54" cy="858.30" r="1.6"/><circle cx="476.42" cy="858.30" r="1.6"/><circle cx="508.30" cy="858.30" r="1.6"/><circle cx="540.18" cy="858.30" r="1.6"/><circle cx="572.06" cy="858.30" r="1.6"/><circle cx="603.94" cy="858.30" r="1.6"/><circle cx="635.82" cy="858.30" r="1.6"/><circle cx="667.70" cy="858.30" r="1.6"/><circle cx="699.58" cy="858.30" r="1.6"/><circle cx="731.46" cy="858.30" r="1.6"/><circle cx="763.34" cy="858.30" r="1.6"/><circle cx="795.22" cy="858.30" r="1.6"/><circle cx="827.10" cy="858.30" r="1.6"/><circle cx="858.98" cy="858.30" r="1.6"/><circle cx="890.86" cy="858.30" r="1.6"/><circle cx="922.74" cy="858.30" r="1.6"/><circle cx="954.62" cy="858.30" r="1.6"/><circle cx="986.50" cy="858.30" r="1.6"/><circle cx="1018.38" cy="858.30" r="1.6"/><circle cx="1050.26" cy="858.30" r="1.6"/><circle cx="30.10" cy="890.20" r="1.6"/><circle cx="61.98" cy="890.20" r="1.6"/><circle cx="93.86" cy="890.20" r="1.6"/><circle cx="125.74" cy="890.20" r="1.6"/><circle cx="157.62" cy="890.20" r="1.6"/><circle cx="189.50" cy="890.20" r="1.6"/><circle cx="221.38" cy="890.20" r="1.6"/><circle cx="253.26" cy="890.20" r="1.6"/><circle cx="285.14" cy="890.20" r="1.6"/><circle cx="317.02" cy="890.20" r="1.6"/><circle cx="348.90" cy="890.20" r="1.6"/><circle cx="380.78" cy="890.20" r="1.6"/><circle cx="412.66" cy="890.20" r="1.6"/><circle cx="444.54" cy="890.20" r="1.6"/><circle cx="476.42" cy="890.20" r="1.6"/><circle cx="508.30" cy="890.20" r="1.6"/><circle cx="540.18" cy="890.20" r="1.6"/><circle cx="572.06" cy="890.20" r="1.6"/><circle cx="603.94" cy="890.20" r="1.6"/><circle cx="635.82" cy="890.20" r="1.6"/><circle cx="667.70" cy="890.20" r="1.6"/><circle cx="699.58" cy="890.20" r="1.6"/><circle cx="731.46" cy="890.20" r="1.6"/><circle cx="763.34" cy="890.20" r="1.6"/><circle cx="795.22" cy="890.20" r="1.6"/><circle cx="827.10" cy="890.20" r="1.6"/><circle cx="858.98" cy="890.20" r="1.6"/><circle cx="890.86" cy="890.20" r="1.6"/><circle cx="922.74" cy="890.20" r="1.6"/><circle cx="954.62" cy="890.20" r="1.6"/><circle cx="986.50" cy="890.20" r="1.6"/><circle cx="1018.38" cy="890.20" r="1.6"/><circle cx="1050.26" cy="890.20" r="1.6"/><circle cx="30.10" cy="922.10" r="1.6"/><circle cx="61.98" cy="922.10" r="1.6"/><circle cx="93.86" cy="922.10" r="1.6"/><circle cx="125.74" cy="922.10" r="1.6"/><circle cx="157.62" cy="922.10" r="1.6"/><circle cx="189.50" cy="922.10" r="1.6"/><circle cx="221.38" cy="922.10" r="1.6"/><circle cx="253.26" cy="922.10" r="1.6"/><circle cx="285.14" cy="922.10" r="1.6"/><circle cx="317.02" cy="922.10" r="1.6"/><circle cx="348.90" cy="922.10" r="1.6"/><circle cx="380.78" cy="922.10" r="1.6"/><circle cx="412.66" cy="922.10" r="1.6"/><circle cx="444.54" cy="922.10" r="1.6"/><circle cx="476.42" cy="922.10" r="1.6"/><circle cx="508.30" cy="922.10" r="1.6"/><circle cx="540.18" cy="922.10" r="1.6"/><circle cx="572.06" cy="922.10" r="1.6"/><circle cx="603.94" cy="922.10" r="1.6"/><circle cx="635.82" cy="922.10" r="1.6"/><circle cx="667.70" cy="922.10" r="1.6"/><circle cx="699.58" cy="922.10" r="1.6"/><circle cx="731.46" cy="922.10" r="1.6"/><circle cx="763.34" cy="922.10" r="1.6"/><circle cx="795.22" cy="922.10" r="1.6"/><circle cx="827.10" cy="922.10" r="1.6"/><circle cx="858.98" cy="922.10" r="1.6"/><circle cx="890.86" cy="922.10" r="1.6"/><circle cx="922.74" cy="922.10" r="1.6"/><circle cx="954.62" cy="922.10" r="1.6"/><circle cx="986.50" cy="922.10" r="1.6"/><circle cx="1018.38" cy="922.10" r="1.6"/><circle cx="1050.26" cy="922.10" r="1.6"/><circle cx="30.10" cy="954.00" r="1.6"/><circle cx="61.98" cy="954.00" r="1.6"/><circle cx="93.86" cy="954.00" r="1.6"/><circle cx="125.74" cy="954.00" r="1.6"/><circle cx="157.62" cy="954.00" r="1.6"/><circle cx="189.50" cy="954.00" r="1.6"/><circle cx="221.38" cy="954.00" r="1.6"/><circle cx="253.26" cy="954.00" r="1.6"/><circle cx="285.14" cy="954.00" r="1.6"/><circle cx="317.02" cy="954.00" r="1.6"/><circle cx="348.90" cy="954.00" r="1.6"/><circle cx="380.78" cy="954.00" r="1.6"/><circle cx="412.66" cy="954.00" r="1.6"/><circle cx="444.54" cy="954.00" r="1.6"/><circle cx="476.42" cy="954.00" r="1.6"/><circle cx="508.30" cy="954.00" r="1.6"/><circle cx="540.18" cy="954.00" r="1.6"/><circle cx="572.06" cy="954.00" r="1.6"/><circle cx="603.94" cy="954.00" r="1.6"/><circle cx="635.82" cy="954.00" r="1.6"/><circle cx="667.70" cy="954.00" r="1.6"/><circle cx="699.58" cy="954.00" r="1.6"/><circle cx="731.46" cy="954.00" r="1.6"/><circle cx="763.34" cy="954.00" r="1.6"/><circle cx="795.22" cy="954.00" r="1.6"/><circle cx="827.10" cy="954.00" r="1.6"/><circle cx="858.98" cy="954.00" r="1.6"/><circle cx="890.86" cy="954.00" r="1.6"/><circle cx="922.74" cy="954.00" r="1.6"/><circle cx="954.62" cy="954.00" r="1.6"/><circle cx="986.50" cy="954.00" r="1.6"/><circle cx="1018.38" cy="954.00" r="1.6"/><circle cx="1050.26" cy="954.00" r="1.6"/><circle cx="30.10" cy="985.90" r="1.6"/><circle cx="61.98" cy="985.90" r="1.6"/><circle cx="93.86" cy="985.90" r="1.6"/><circle cx="125.74" cy="985.90" r="1.6"/><circle cx="157.62" cy="985.90" r="1.6"/><circle cx="189.50" cy="985.90" r="1.6"/><circle cx="221.38" cy="985.90" r="1.6"/><circle cx="253.26" cy="985.90" r="1.6"/><circle cx="285.14" cy="985.90" r="1.6"/><circle cx="317.02" cy="985.90" r="1.6"/><circle cx="348.90" cy="985.90" r="1.6"/><circle cx="380.78" cy="985.90" r="1.6"/><circle cx="412.66" cy="985.90" r="1.6"/><circle cx="444.54" cy="985.90" r="1.6"/><circle cx="476.42" cy="985.90" r="1.6"/><circle cx="508.30" cy="985.90" r="1.6"/><circle cx="540.18" cy="985.90" r="1.6"/><circle cx="572.06" cy="985.90" r="1.6"/><circle cx="603.94" cy="985.90" r="1.6"/><circle cx="635.82" cy="985.90" r="1.6"/><circle cx="667.70" cy="985.90" r="1.6"/><circle cx="699.58" cy="985.90" r="1.6"/><circle cx="731.46" cy="985.90" r="1.6"/><circle cx="763.34" cy="985.90" r="1.6"/><circle cx="795.22" cy="985.90" r="1.6"/><circle cx="827.10" cy="985.90" r="1.6"/><circle cx="858.98" cy="985.90" r="1.6"/><circle cx="890.86" cy="985.90" r="1.6"/><circle cx="922.74" cy="985.90" r="1.6"/><circle cx="954.62" cy="985.90" r="1.6"/><circle cx="986.50" cy="985.90" r="1.6"/><circle cx="1018.38" cy="985.90" r="1.6"/><circle cx="1050.26" cy="985.90" r="1.6"/><circle cx="30.10" cy="1017.80" r="1.6"/><circle cx="61.98" cy="1017.80" r="1.6"/><circle cx="93.86" cy="1017.80" r="1.6"/><circle cx="125.74" cy="1017.80" r="1.6"/><circle cx="157.62" cy="1017.80" r="1.6"/><circle cx="189.50" cy="1017.80" r="1.6"/><circle cx="221.38" cy="1017.80" r="1.6"/><circle cx="253.26" cy="1017.80" r="1.6"/><circle cx="285.14" cy="1017.80" r="1.6"/><circle cx="317.02" cy="1017.80" r="1.6"/><circle cx="348.90" cy="1017.80" r="1.6"/><circle cx="380.78" cy="1017.80" r="1.6"/><circle cx="412.66" cy="1017.80" r="1.6"/><circle cx="444.54" cy="1017.80" r="1.6"/><circle cx="476.42" cy="1017.80" r="1.6"/><circle cx="508.30" cy="1017.80" r="1.6"/><circle cx="540.18" cy="1017.80" r="1.6"/><circle cx="572.06" cy="1017.80" r="1.6"/><circle cx="603.94" cy="1017.80" r="1.6"/><circle cx="635.82" cy="1017.80" r="1.6"/><circle cx="667.70" cy="1017.80" r="1.6"/><circle cx="699.58" cy="1017.80" r="1.6"/><circle cx="731.46" cy="1017.80" r="1.6"/><circle cx="763.34" cy="1017.80" r="1.6"/><circle cx="795.22" cy="1017.80" r="1.6"/><circle cx="827.10" cy="1017.80" r="1.6"/><circle cx="858.98" cy="1017.80" r="1.6"/><circle cx="890.86" cy="1017.80" r="1.6"/><circle cx="922.74" cy="1017.80" r="1.6"/><circle cx="954.62" cy="1017.80" r="1.6"/><circle cx="986.50" cy="1017.80" r="1.6"/><circle cx="1018.38" cy="1017.80" r="1.6"/><circle cx="1050.26" cy="1017.80" r="1.6"/><circle cx="30.10" cy="1049.70" r="1.6"/><circle cx="61.98" cy="1049.70" r="1.6"/><circle cx="93.86" cy="1049.70" r="1.6"/><circle cx="125.74" cy="1049.70" r="1.6"/><circle cx="157.62" cy="1049.70" r="1.6"/><circle cx="189.50" cy="1049.70" r="1.6"/><circle cx="221.38" cy="1049.70" r="1.6"/><circle cx="253.26" cy="1049.70" r="1.6"/><circle cx="285.14" cy="1049.70" r="1.6"/><circle cx="317.02" cy="1049.70" r="1.6"/><circle cx="348.90" cy="1049.70" r="1.6"/><circle cx="380.78" cy="1049.70" r="1.6"/><circle cx="412.66" cy="1049.70" r="1.6"/><circle cx="444.54" cy="1049.70" r="1.6"/><circle cx="476.42" cy="1049.70" r="1.6"/><circle cx="508.30" cy="1049.70" r="1.6"/><circle cx="540.18" cy="1049.70" r="1.6"/><circle cx="572.06" cy="1049.70" r="1.6"/><circle cx="603.94" cy="1049.70" r="1.6"/><circle cx="635.82" cy="1049.70" r="1.6"/><circle cx="667.70" cy="1049.70" r="1.6"/><circle cx="699.58" cy="1049.70" r="1.6"/><circle cx="731.46" cy="1049.70" r="1.6"/><circle cx="763.34" cy="1049.70" r="1.6"/><circle cx="795.22" cy="1049.70" r="1.6"/><circle cx="827.10" cy="1049.70" r="1.6"/><circle cx="858.98" cy="1049.70" r="1.6"/><circle cx="890.86" cy="1049.70" r="1.6"/><circle cx="922.74" cy="1049.70" r="1.6"/><circle cx="954.62" cy="1049.70" r="1.6"/><circle cx="986.50" cy="1049.70" r="1.6"/><circle cx="1018.38" cy="1049.70" r="1.6"/><circle cx="1050.26" cy="1049.70" r="1.6"/></g>
<rect x="45" y="218" width="996" height="777" fill="#fff" fill-opacity="0.4"/>
<rect x="45" y="122" width="996" height="96" fill="#FFA45D"/>
<g fill="#000"><rect x="45" y="122" width="998" height="2"/><rect x="45" y="218" width="998" height="2"/><rect x="45" y="299" width="998" height="2"/><rect x="45" y="386" width="998" height="2"/><rect x="45" y="478" width="998" height="2"/><rect x="45" y="571" width="998" height="2"/><rect x="45" y="629" width="998" height="2"/><rect x="45" y="718" width="998" height="2"/><rect x="45" y="804" width="998" height="2"/><rect x="45" y="902" width="998" height="2"/><rect x="45" y="995" width="998" height="2"/><rect x="45" y="122" width="2" height="875"/><rect x="890" y="122" width="2" height="875"/><rect x="1041" y="122" width="2" height="875"/></g>
<text class="b" x="58.02" y="165.3" font-size="41.5" fill="#fff" textLength="751.23" lengthAdjust="spacingAndGlyphs">Сфера деятельности, наименование</text>
<text class="b" x="57.01" y="199.5" font-size="41.5" fill="#fff" textLength="723.15" lengthAdjust="spacingAndGlyphs">вида экономической деятельности</text>
<text class="b" x="899.74" y="183" font-size="34.6" fill="#fff" textLength="128.94" lengthAdjust="spacingAndGlyphs">ОКВЭД</text>
<text x="58.8" y="249" font-size="25.5" fill="#000" stroke="#fff" stroke-width="0.25" textLength="500.1" lengthAdjust="spacingAndGlyphs">Деятельность по предоставлению мест</text>
<text x="58.8" y="278.5" font-size="25.5" fill="#000" stroke="#fff" stroke-width="0.25" textLength="370.13" lengthAdjust="spacingAndGlyphs">для временного проживания</text>
<text x="58.8" y="338.5" font-size="25.5" fill="#000" stroke="#fff" stroke-width="0.25" textLength="577.8" lengthAdjust="spacingAndGlyphs">Деятельность по предоставлению продуктов</text>
<text x="58.03" y="368.7" font-size="25.5" fill="#000" stroke="#fff" stroke-width="0.25" textLength="251.54" lengthAdjust="spacingAndGlyphs">питания и напитков</text>
<text x="58.8" y="428.5" font-size="25.5" fill="#000" stroke="#fff" stroke-width="0.25" textLength="610.16" lengthAdjust="spacingAndGlyphs">Деятельность туристических агентств и прочих</text>
<text x="58.52" y="458.5" font-size="25.5" fill="#000" stroke="#fff" stroke-width="0.25" textLength="726.72" lengthAdjust="spacingAndGlyphs">организаций, предоставляющих услуги в сфере туризма</text>
<text x="58.8" y="518.5" font-size="25.5" fill="#000" stroke="#fff" stroke-width="0.25" textLength="644.82" lengthAdjust="spacingAndGlyphs">Деятельность творческая, деятельность в области</text>
<text x="58.01" y="548.5" font-size="25.5" fill="#000" stroke="#fff" stroke-width="0.25" textLength="493.33" lengthAdjust="spacingAndGlyphs">искусства и организации развлечений</text>
<text x="58.8" y="608.5" font-size="25.5" fill="#000" stroke="#fff" stroke-width="0.25" textLength="701.29" lengthAdjust="spacingAndGlyphs">Деятельность в области спорта, отдыха и развлечений</text>
<text x="58.44" y="668.5" font-size="25.5" fill="#000" stroke="#fff" stroke-width="0.25" textLength="703.44" lengthAdjust="spacingAndGlyphs">Ремонт компьютеров, предметов личного потребления</text>
<text x="58.01" y="698.5" font-size="25.5" fill="#000" stroke="#fff" stroke-width="0.25" textLength="485.37" lengthAdjust="spacingAndGlyphs">и хозяйственно-бытового назначения</text>
<text x="58.8" y="758.5" font-size="25.5" fill="#000" stroke="#fff" stroke-width="0.25" textLength="657.17" lengthAdjust="spacingAndGlyphs">Деятельность прочего сухопутного пассажирского</text>
<text x="59.1" y="788.5" font-size="25.5" fill="#000" stroke="#fff" stroke-width="0.25" textLength="144.97" lengthAdjust="spacingAndGlyphs">транспорта</text>
<text x="58.8" y="848.5" font-size="25.5" fill="#000" stroke="#fff" stroke-width="0.25" textLength="679.02" lengthAdjust="spacingAndGlyphs">Деятельность автомобильного грузового транспорта</text>
<text x="58.01" y="878.5" font-size="25.5" fill="#000" stroke="#fff" stroke-width="0.25" textLength="304.75" lengthAdjust="spacingAndGlyphs">и услуги по перевозкам</text>
<text x="58.8" y="938.5" font-size="25.5" fill="#000" stroke="#fff" stroke-width="0.25" textLength="658.43" lengthAdjust="spacingAndGlyphs">Деятельность внутреннего водного пассажирского</text>
<text x="59.1" y="968.5" font-size="25.5" fill="#000" stroke="#fff" stroke-width="0.25" textLength="144.97" lengthAdjust="spacingAndGlyphs">транспорта</text>
<text x="942.47" y="280.5" font-size="40" fill="#000" stroke="#fff" stroke-width="0.5" textLength="47.43" lengthAdjust="spacingAndGlyphs">55</text>
<text x="942.05" y="370.5" font-size="40" fill="#000" stroke="#fff" stroke-width="0.5" textLength="47.76" lengthAdjust="spacingAndGlyphs">56</text>
<text x="942.49" y="440.8" font-size="40" fill="#000" stroke="#fff" stroke-width="0.5" textLength="47.0" lengthAdjust="spacingAndGlyphs">79</text>
<text x="939.45" y="531.2" font-size="40" fill="#000" stroke="#fff" stroke-width="0.5" textLength="52.31" lengthAdjust="spacingAndGlyphs">90</text>
<text x="942.94" y="614.3" font-size="40" fill="#000" stroke="#fff" stroke-width="0.5" textLength="45.91" lengthAdjust="spacingAndGlyphs">93</text>
<text x="942.05" y="685.5" font-size="40" fill="#000" stroke="#fff" stroke-width="0.5" textLength="47.76" lengthAdjust="spacingAndGlyphs">95</text>
<text x="926.07" y="772.9" font-size="40" fill="#000" stroke="#fff" stroke-width="0.5" textLength="80.56" lengthAdjust="spacingAndGlyphs">49.3</text>
<text x="924.04" y="865.7" font-size="40" fill="#000" stroke="#fff" stroke-width="0.5" textLength="82.78" lengthAdjust="spacingAndGlyphs">49.4</text>
<text x="925.01" y="959.3" font-size="40" fill="#000" stroke="#fff" stroke-width="0.5" textLength="81.44" lengthAdjust="spacingAndGlyphs">50.3</text>
</svg>
</body></html>
